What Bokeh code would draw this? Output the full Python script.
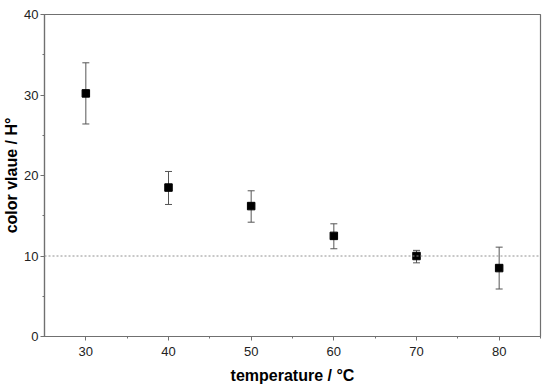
from bokeh.plotting import figure
from bokeh.models import ColumnDataSource, Whisker, Span, FixedTicker, Range1d
from bokeh.embed import file_html
from bokeh.resources import INLINE

temperature = [30, 40, 50, 60, 70, 80]
color_value = [30.2, 18.5, 16.2, 12.5, 10.0, 8.5]
err_upper = [34.0, 20.5, 18.1, 14.0, 10.7, 11.1]
err_lower = [26.4, 16.4, 14.2, 10.9, 9.15, 5.9]
x_ticks = [30, 40, 50, 60, 70, 80]
y_ticks = [0, 10, 20, 30, 40]
reference_level = 10

src = ColumnDataSource(data=dict(x=temperature, y=color_value, upper=err_upper, lower=err_lower))

p = figure(width=550, height=388, output_backend="svg", toolbar_location=None,
           x_range=Range1d(25, 85), y_range=Range1d(0, 40),
           min_border_left=44, min_border_right=10, min_border_top=14, min_border_bottom=52)
p.grid.visible = False
p.outline_line_color = "#707070"
p.outline_line_width = 1.2

gray = "#707070"
for ax in (p.xaxis[0], p.yaxis[0]):
    ax.axis_line_color = gray
    ax.axis_line_width = 1.2
    ax.major_tick_line_color = gray
    ax.minor_tick_line_color = gray
    ax.major_tick_in = 0
    ax.major_tick_out = 4
    ax.minor_tick_in = 0
    ax.minor_tick_out = 2
    ax.major_label_text_font = "Liberation Sans"
    ax.major_label_text_font_size = "13px"
    ax.major_label_text_color = "#222222"
    ax.axis_label_text_font = "Liberation Sans"
    ax.axis_label_text_font_size = "16px"
    ax.axis_label_text_font_style = "bold"
    ax.axis_label_text_color = "black"

p.xaxis.ticker = FixedTicker(ticks=x_ticks, minor_ticks=[35, 45, 55, 65, 75, 85])
p.yaxis.ticker = FixedTicker(ticks=y_ticks, minor_ticks=[5, 15, 25, 35])
p.xaxis.axis_label = "temperature / °C"
p.yaxis.axis_label = "color vlaue / H°"
p.xaxis.major_label_standoff = 6
p.xaxis.axis_label_standoff = 8
p.yaxis.major_label_standoff = 2
p.yaxis.axis_label_standoff = 1

p.add_layout(Span(location=reference_level, dimension="width", line_color="#909090",
                  line_dash="2 2", line_width=1))

w = Whisker(source=src, base="x", upper="upper", lower="lower", line_color="#555555", line_width=1)
w.upper_head.size = 7
w.lower_head.size = 7
w.upper_head.line_color = "#555555"
w.lower_head.line_color = "#555555"
p.add_layout(w)

p.scatter("x", "y", source=src, marker="square", size=7.5, color="black")

open("out.html", "w").write(file_html(p, INLINE))
